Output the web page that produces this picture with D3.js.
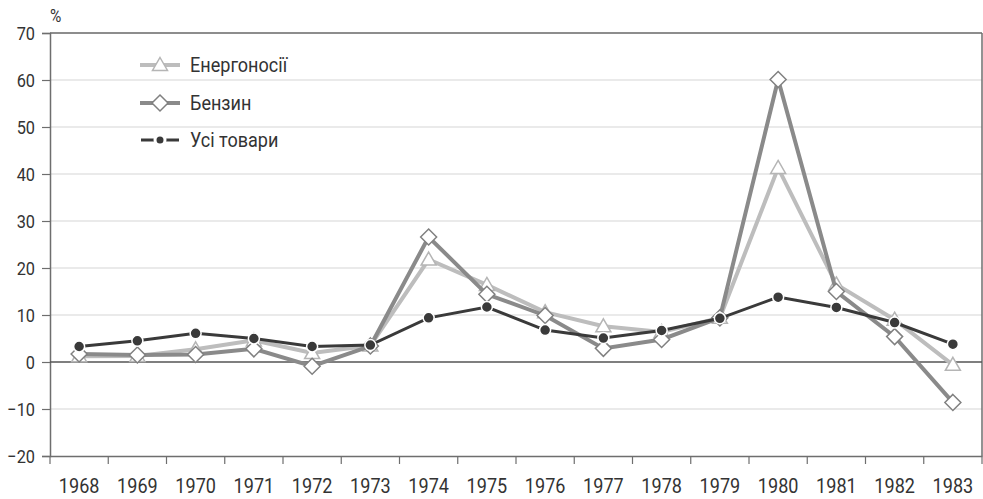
<!DOCTYPE html>
<html><head><meta charset="utf-8">
<script src="https://cdn.jsdelivr.net/npm/d3@7"></script>
<style>body{margin:0;background:#fff}svg{display:block}text{font-family:Roboto,"Noto Sans",sans-serif;fill:#333}</style>
</head><body><svg id="c" width="983" height="499"></svg>
<script>
const years = ["1968","1969","1970","1971","1972","1973","1974","1975","1976","1977","1978","1979","1980","1981","1982","1983"];
const energy = [1.2,1.3,2.7,4.6,1.9,3.5,21.8,16.4,10.6,7.6,6.4,9.4,41.3,16.5,9.0,-0.6];
const gasoline = [1.7,1.5,1.6,2.8,-0.9,3.4,26.6,14.4,9.9,2.9,4.8,9.4,60.1,15.0,5.4,-8.6];
const allGoods = [3.3,4.5,6.1,5.0,3.3,3.6,9.4,11.7,6.8,5.1,6.7,9.3,13.8,11.6,8.4,3.8];
const yTicks = [-20,-10,0,10,20,30,40,50,60,70];
const seriesNames = ["Енергоносії","Бензин","Усі товари"];

const svg = d3.select("#c");
const L=50,R=982,T=33,B=456;
const x = d3.scaleBand().domain(years).range([L,R]);
const y = d3.scaleLinear().domain([-20,70]).range([B,T]);
const cx = d=>x(d)+x.bandwidth()/2;
const SX = 0.86;

svg.append("g").selectAll("line").data(yTicks.filter(v=>v!==0&&v!==-20)).join("line")
  .attr("x1",L).attr("x2",R).attr("y1",d=>y(d)).attr("y2",d=>y(d))
  .attr("stroke","#d6d6d6").attr("stroke-width",1.2);

svg.append("line").attr("x1",L).attr("x2",R).attr("y1",T).attr("y2",T).attr("stroke","#6e6e6e").attr("stroke-width",1.5);
svg.append("line").attr("x1",R).attr("x2",R).attr("y1",T).attr("y2",B).attr("stroke","#6e6e6e").attr("stroke-width",1.5);

const ya = svg.append("g").attr("transform",`translate(${L},0)`)
  .call(d3.axisLeft(y).tickValues(yTicks).tickSize(8).tickFormat(d=>d<0?"\u2212"+Math.abs(d):d));
ya.attr("font-family",null).attr("font-size",null);
ya.select(".domain").attr("stroke","#6e6e6e").attr("stroke-width",1.5);
ya.selectAll(".tick line").attr("stroke","#6e6e6e").attr("stroke-width",1.2);
ya.selectAll("text").style("font-size","19px").attr("fill","#333")
  .attr("x",0).attr("dy","0.36em").attr("transform",`translate(-15,0) scale(${SX},1)`);

const xa = svg.append("g").attr("transform",`translate(0,${B})`)
  .call(d3.axisBottom(x).tickSize(0));
xa.attr("font-family",null).attr("font-size",null);
xa.select(".domain").attr("stroke","#6e6e6e").attr("stroke-width",1.5);
xa.selectAll("text").style("font-size","21px").attr("fill","#333")
  .attr("y",0).attr("dy",0).attr("transform",`translate(0,37) scale(${SX},1)`);
svg.append("g").selectAll("line").data(years.concat(["end"])).join("line")
  .attr("x1",(d,i)=>L+i*x.bandwidth()).attr("x2",(d,i)=>L+i*x.bandwidth())
  .attr("y1",B).attr("y2",B+8).attr("stroke","#6e6e6e").attr("stroke-width",1.2);

svg.append("line").attr("x1",L).attr("x2",R).attr("y1",y(0)).attr("y2",y(0)).attr("stroke","#555").attr("stroke-width",1.6);

svg.append("text").attr("transform",`translate(50,22) scale(${SX},1)`).style("font-size","18px").text("%");

const line = d3.line().x((d,i)=>cx(years[i])).y(d=>y(d));
const triPath = "M0,-7.5L7.5,5.5L-7.5,5.5Z";
const diaPath = "M0,-8L8,0L0,8L-8,0Z";

svg.append("path").datum(energy).attr("d",line).attr("fill","none").attr("stroke","#bdbdbd").attr("stroke-width",4);
svg.append("g").selectAll("path").data(energy).join("path").attr("d",triPath)
  .attr("transform",(d,i)=>`translate(${cx(years[i])},${y(d)})`).attr("fill","#fff").attr("stroke","#b5b5b5").attr("stroke-width",1.5);
svg.append("path").datum(gasoline).attr("d",line).attr("fill","none").attr("stroke","#8a8a8a").attr("stroke-width",4);
svg.append("g").selectAll("path").data(gasoline).join("path").attr("d",diaPath)
  .attr("transform",(d,i)=>`translate(${cx(years[i])},${y(d)})`).attr("fill","#fff").attr("stroke","#808080").attr("stroke-width",1.5);
svg.append("path").datum(allGoods).attr("d",line).attr("fill","none").attr("stroke","#3a3a3a").attr("stroke-width",3);
svg.append("g").selectAll("circle").data(allGoods).join("circle")
  .attr("cx",(d,i)=>cx(years[i])).attr("cy",d=>y(d)).attr("r",5.5).attr("fill","#3a3a3a").attr("stroke","#fff").attr("stroke-width",1.5);

const lg = svg.append("g");
const rows=[65,103,140];
lg.append("line").attr("x1",140).attr("x2",180).attr("y1",rows[0]).attr("y2",rows[0]).attr("stroke","#bdbdbd").attr("stroke-width",4);
lg.append("path").attr("d",triPath).attr("transform",`translate(160,${rows[0]})`).attr("fill","#fff").attr("stroke","#b5b5b5").attr("stroke-width",1.5);
lg.append("line").attr("x1",140).attr("x2",180).attr("y1",rows[1]).attr("y2",rows[1]).attr("stroke","#8a8a8a").attr("stroke-width",4);
lg.append("path").attr("d",diaPath).attr("transform",`translate(160,${rows[1]})`).attr("fill","#fff").attr("stroke","#808080").attr("stroke-width",1.5);
lg.append("line").attr("x1",141).attr("x2",179).attr("y1",rows[2]).attr("y2",rows[2]).attr("stroke","#3a3a3a").attr("stroke-width",3);
lg.append("circle").attr("cx",160).attr("cy",rows[2]).attr("r",5).attr("fill","#3a3a3a").attr("stroke","#fff").attr("stroke-width",3);
lg.selectAll("text").data(seriesNames).join("text")
  .attr("transform",(d,i)=>`translate(190,${rows[i]+7}) scale(${SX},1)`)
  .style("font-size","21px").text(d=>d);
</script></body></html>
